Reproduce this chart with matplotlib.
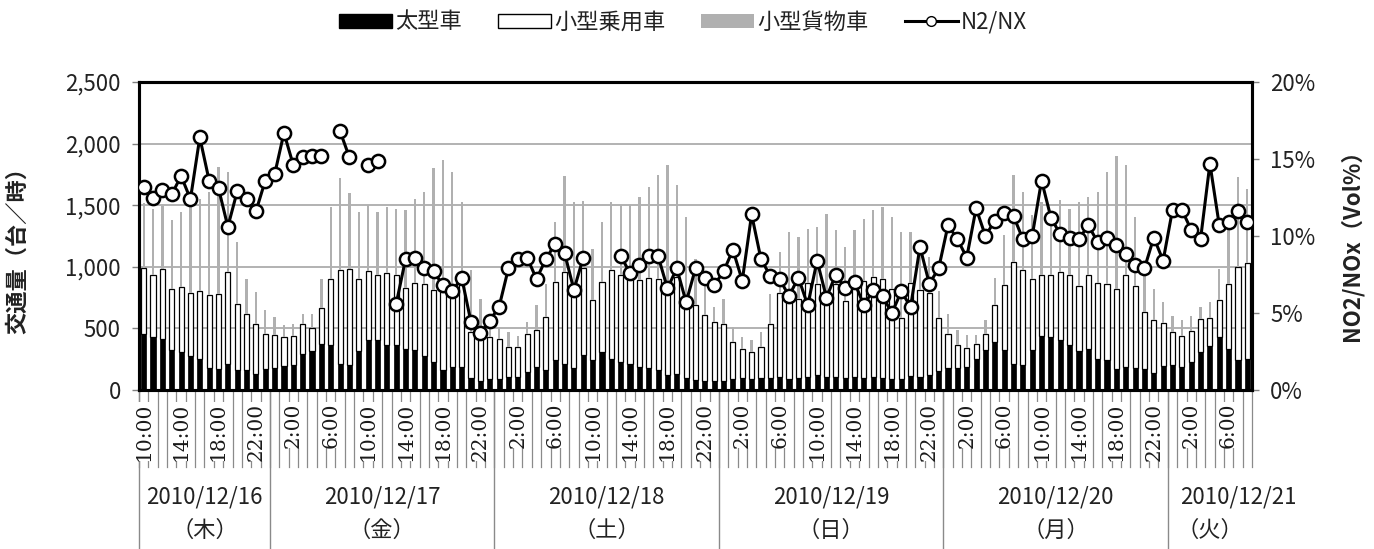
import numpy as np
import matplotlib
matplotlib.use("Agg")
import matplotlib.pyplot as plt
from matplotlib.patches import Patch
from matplotlib.lines import Line2D

plt.rcParams['font.family'] = ['Noto Sans CJK JP', 'DejaVu Sans']

# Hourly traffic counts (vehicles / hour), 2010/12/16 10:00 – 2010/12/21 8:00
large = [457, 430, 410, 321, 308, 280, 253, 180, 167, 207, 159, 159, 126, 167,
         180, 191, 205, 294, 313, 375, 362, 213, 199, 313, 402, 402, 367, 367, 329, 321,
         280, 226, 159, 186, 186, 99, 77, 86,
         86, 104, 104, 145, 186, 159, 240, 213, 180, 286, 240, 308, 253, 226, 207, 186,
         180, 159, 118, 126, 96, 83, 77, 69,
         77, 86, 96, 86, 96, 96, 104, 91, 96, 104, 118, 104, 104, 96, 104, 96,
         104, 96, 91, 91, 110, 104, 118, 151,
         178, 178, 186, 253, 321, 389, 321, 213, 205, 321, 438, 427, 402, 367, 313, 329,
         253, 240, 172, 186, 178, 167, 140, 194,
         205, 186, 226, 308, 356, 430, 329, 240, 248]

passenger = [533, 500, 570, 501, 525, 510, 547, 588, 615, 750, 541, 460, 412, 290,
             269, 239, 233, 244, 193, 290, 536, 759, 786, 591, 564, 534, 586, 564, 499, 550,
             583, 583, 636, 609, 772, 371, 393, 343,
             330, 244, 244, 312, 298, 433, 637, 745, 588, 704, 488, 569, 719, 710, 691, 704,
             729, 739, 664, 791, 618, 604, 529, 482,
             461, 303, 239, 222, 252, 442, 686, 677, 640, 767, 745, 678, 759, 624, 767, 786,
             813, 808, 731, 493, 761, 705, 672, 433,
             279, 189, 154, 122, 136, 298, 528, 826, 767, 583, 498, 509, 556, 564, 531, 607,
             618, 623, 650, 750, 666, 466, 425, 352,
             265, 252, 250, 265, 228, 298, 534, 759, 786]

cargo = [530, 543, 510, 556, 613, 710, 754, 840, 1030, 813, 500, 284, 257, 189,
         143, 94, 100, 81, 113, 238, 589, 745, 610, 542, 534, 510, 534, 542, 632, 683,
         745, 989, 1071, 976, 569, 502, 266, 122,
         95, 122, 92, 94, 203, 271, 487, 780, 759, 542, 420, 487, 555, 564, 602, 678,
         740, 846, 1043, 745, 691, 379, 324, 122,
         203, 122, 95, 94, 122, 244, 330, 515, 507, 439, 461, 650, 434, 441, 426, 510,
         543, 583, 583, 699, 412, 339, 290, 217,
         162, 117, 103, 68, 108, 222, 407, 705, 636, 515, 591, 428, 583, 542, 683, 632,
         737, 908, 1079, 889, 561, 298, 257, 168,
         130, 127, 124, 100, 130, 257, 474, 732, 601]

# NO2/NOx ratio (%), NaN = missing measurement
ratio = [13.2, 12.5, 13.0, 12.7, 13.9, 12.4, 16.4, 13.6, 13.1, 10.6, 12.9, 12.4, 11.6, 13.6,
         14.0, 16.7, 14.6, 15.1, 15.2, 15.2, np.nan, 16.8, 15.1, np.nan, 14.6, 14.9, np.nan,
         5.6, 8.5, 8.6, 7.9, 7.7, 6.8, 6.4, 7.3, 4.4, 3.7, 4.5,
         5.4, 7.9, 8.5, 8.6, 7.2, 8.5, 9.5, 8.9, 6.5, 8.6, np.nan, np.nan, np.nan, 8.7,
         7.6, 8.1, 8.7, 8.7, 6.6, 7.9, 5.7, 7.9, 7.3, 6.8,
         7.7, 9.1, 7.1, 11.4, 8.5, 7.4, 7.2, 6.1, 7.3, 5.5, 8.4, 6.0, 7.5, 6.6, 7.0, 5.5,
         6.5, 6.1, 5.0, 6.4, 5.4, 9.3, 6.9, 7.9,
         10.7, 9.8, 8.6, 11.8, 10.0, 11.0, 11.5, 11.3, 9.8, 10.0, 13.6, 11.2, 10.1, 9.9,
         9.8, 10.7, 9.6, 9.9, 9.4, 8.8, 8.1, 7.9, 9.9, 8.4,
         11.7, 11.7, 10.4, 9.8, 14.7, 10.7, 10.9, 11.6, 10.9]

days = ['2010/12/16', '2010/12/17', '2010/12/18', '2010/12/19', '2010/12/20', '2010/12/21']
weekdays = ['（木）', '（金）', '（土）', '（日）', '（月）', '（火）']
hours_per_day = [14, 24, 24, 24, 24, 9]
start_hour = 10

legend_labels = ['太型車', '小型乗用車', '小型貨物車', 'N2/NX']
left_ticks = [0, 500, 1000, 1500, 2000, 2500]
right_ticks = [0, 5, 10, 15, 20]

large = np.array(large, dtype=float)
passenger = np.array(passenger, dtype=float)
cargo = np.array(cargo, dtype=float)
ratio = np.array(ratio, dtype=float) / 100.0
n = len(large)
x = np.arange(n)

W, H = 1374, 549
fig = plt.figure(figsize=(W / 100, H / 100), dpi=100)
ax = fig.add_axes([139 / W, 159 / H, (1252 - 139) / W, 308 / H])

# stacked bars
ax.bar(x, large, width=0.55, color='black', edgecolor='black', linewidth=0.5, zorder=2)
ax.bar(x, passenger, bottom=large, width=0.55, color='white', edgecolor='black',
       linewidth=0.9, zorder=2)
ax.bar(x, cargo, bottom=large + passenger, width=0.24, color='#b0b0b0', linewidth=0,
       zorder=2)

ax.set_xlim(-0.5, n - 0.5)
ax.set_ylim(0, 2500)
ax.set_yticks(left_ticks)
ax.set_yticklabels([f'{v:,}' for v in left_ticks])
ax.yaxis.grid(True, color='#a6a6a6', linewidth=1.2)
ax.set_axisbelow(True)
ax.tick_params(axis='y', direction='out', length=5, width=1, color='#808080',
               labelsize=16, pad=8, labelcolor='#222222')

# hour labels every 4 hours
hours = [(start_hour + i) % 24 for i in range(n)]
tick_pos = list(range(0, n, 4))
ax.set_xticks(tick_pos)
ax.tick_params(axis='x', length=0, pad=9)
ax.set_xticklabels([f'{hours[i]}:00' for i in tick_pos], rotation=90,
                   fontsize=14.5, color='#1a1a1a', family='DejaVu Serif',
                   bbox=dict(facecolor='white', edgecolor='none', pad=0.3))

for side in ['top', 'bottom', 'left', 'right']:
    ax.spines[side].set_color('black')
    ax.spines[side].set_linewidth(2.2)

# hourly separators under the axis and day boundaries
tr = ax.get_xaxis_transform()
for k in range(n + 1):
    ax.plot([k - 0.5, k - 0.5], [0, -0.25], transform=tr, color='#8a8a8a',
            linewidth=0.9, clip_on=False, zorder=0.5)
bounds = np.concatenate([[0], np.cumsum(hours_per_day)])
for b in bounds[:-1]:
    ax.plot([b - 0.5, b - 0.5], [0, -0.52], transform=tr, color='#8a8a8a',
            linewidth=1.0, clip_on=False, zorder=0.5)

for d, (lo, hi) in enumerate(zip(bounds[:-1], bounds[1:])):
    cx = (lo + hi - 1) / 2
    if d == len(days) - 1:
        ax.text(lo + 0.8, -0.347, days[d], transform=tr, ha='left', va='center',
                fontsize=16, color='#222222')
    else:
        ax.text(cx, -0.347, days[d], transform=tr, ha='center', va='center',
                fontsize=16, color='#222222')
    ax.text(cx, -0.455, weekdays[d], transform=tr, ha='center', va='center',
            fontsize=16, color='#222222')

# NO2/NOx ratio on secondary axis
ax2 = ax.twinx()
ax2.plot(x, ratio, color='black', linewidth=2.2, marker='o', markersize=9.5,
         markerfacecolor='white', markeredgecolor='black', markeredgewidth=1.8, zorder=5)
ax2.set_ylim(0, 0.20)
ax2.set_yticks([v / 100 for v in right_ticks])
ax2.set_yticklabels([f'{v}%' for v in right_ticks])
ax2.tick_params(axis='y', direction='out', length=5, width=1, color='#808080',
                labelsize=16, pad=8, labelcolor='#222222')
for side in ['top', 'bottom', 'left', 'right']:
    ax2.spines[side].set_color('black')
    ax2.spines[side].set_linewidth(2.2)

fig.text(18 / W, 1 - 245 / H, '交通量（台／時）', rotation=90, ha='center', va='center',
         fontsize=16, fontweight='bold', color='#222222')
fig.text(1352 / W, 1 - 240 / H, 'NO2/NOx（Vol%）', rotation=90, ha='center', va='center',
         fontsize=16, fontweight='bold', color='#222222')

handles = [Patch(facecolor='black', edgecolor='black'),
           Patch(facecolor='white', edgecolor='black', linewidth=1),
           Patch(facecolor='#b0b0b0', edgecolor='none'),
           Line2D([0], [0], color='black', linewidth=2.2, marker='o', markersize=7,
                  markerfacecolor='white', markeredgecolor='black')]
fig.legend(handles, legend_labels, loc='center', bbox_to_anchor=(683 / W, 1 - 22 / H),
           ncol=4, frameon=False, fontsize=16, handlelength=2.4, handleheight=0.6,
           handletextpad=0.15, columnspacing=1.6, labelcolor='#222222')

fig.savefig('out.png', dpi=100)
